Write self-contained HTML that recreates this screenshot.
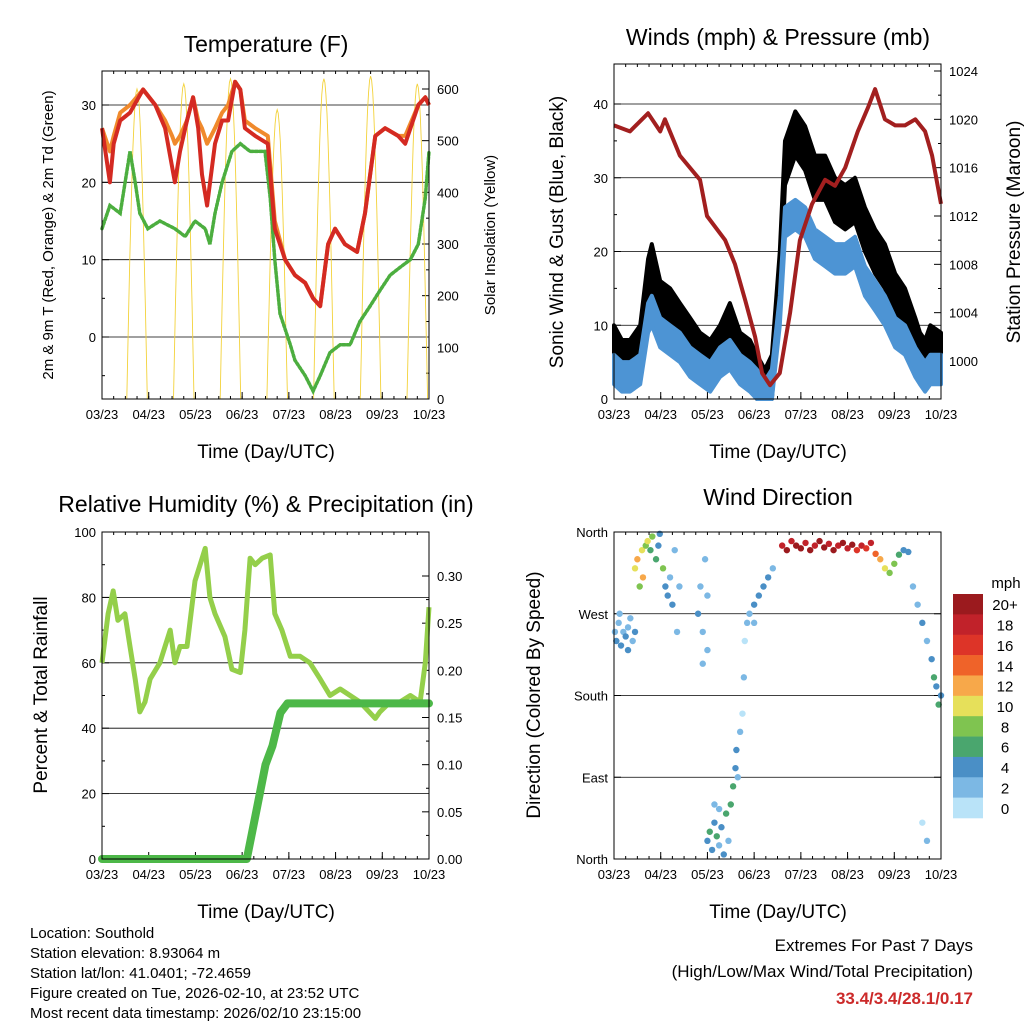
<!DOCTYPE html>
<html><head><meta charset="utf-8"><style>
body{margin:0;background:#fff}
svg{display:block;font-family:"Liberation Sans",Arial,sans-serif}
</style></head><body>
<svg id="s" width="1024" height="1024" xmlns="http://www.w3.org/2000/svg"></svg>
<script>
// ---- Data ----
const tempTimes=[0,.17,.25,.39,.6,.88,1.14,1.35,1.5,1.56,1.67,1.82,1.95,2.06,2.14,2.25,2.42,2.57,2.7,2.85,2.96,3.06,3.28,3.55,3.7,3.92,4.13,4.35,4.52,4.67,4.84,4.99,5.2,5.46,5.63,5.85,6.06,6.34,6.49,6.77,6.92,7];
const temp2m=[27,20,25,28,29,32,30,27,22,20,24,28,31,27,21,17,25,28,28,33,32,27,26,25,14,10,8,7,5,4,12,14,12,11,16,26,27,26,25,30,31,30];
const temp9m=[27,24,26,29,30,32,30,28,26,25,26,28,31,28,27,25,27,29,30,33,32,28,27,26,15,10,8,7,5,4,12,14,12,11,16,26,27,26,26,30,31,30];
const dewTimes=[0,.17,.39,.6,.71,.81,.98,1.24,1.56,1.78,1.99,2.21,2.31,2.42,2.57,2.78,2.96,3.17,3.49,3.6,3.7,3.81,4.03,4.13,4.35,4.52,4.67,4.88,5.1,5.31,5.52,5.74,5.95,6.17,6.38,6.6,6.77,6.92,7];
const dewPoint=[14,17,16,24,20,16,14,15,14,13,15,14,12,16,20,24,25,24,24,18,10,3,-1,-3,-5,-7,-5,-2,-1,-1,2,4,6,8,9,10,12,18,24];
const solarPeaks=[600,610,620,560,620,625,610];
const presTimes=[0,.34,.73,.99,1.09,1.41,1.84,1.99,2.38,2.59,2.81,3.02,3.17,3.34,3.55,3.77,3.98,4.24,4.52,4.73,4.95,5.22,5.44,5.59,5.8,6.02,6.23,6.45,6.66,6.81,7];
const pressure=[1019.5,1019,1020.5,1019,1020,1017,1015,1012,1010,1008,1005,1002,999,998,999,1004,1010,1013,1015,1014.5,1016,1019,1021,1022.5,1020,1019.5,1019.5,1020,1019,1017,1013];
const windTimes=[0,.17,.34,.56,.73,.81,.99,1.2,1.41,1.63,1.84,2.06,2.27,2.48,2.7,2.91,3.06,3.23,3.38,3.55,3.66,3.88,4.09,4.3,4.52,4.73,4.95,5.16,5.37,5.59,5.8,6.02,6.23,6.45,6.55,6.66,6.77,7];
const gust=[7,5,5,7,16,18,13,12,10,8,6,5,7,10,6,5,3,1,3,17,32,36,34,30,30,27,26,27,23,20,18,14,12,8,6,5,7,6];
const sonicWind=[4,3,3,4,11,12,9,8,7,5,4,3,5,6,4,3,2,.5,2,12,24,25,24,21,20,19,19,20,16,14,12,9,8,5,4,3,4,4];
const rhTimes=[0,.13,.24,.34,.49,.6,.71,.81,.92,1.03,1.24,1.46,1.56,1.67,1.82,1.99,2.1,2.21,2.31,2.42,2.63,2.78,2.96,3.06,3.17,3.28,3.43,3.6,3.7,3.85,4.03,4.24,4.45,4.67,4.88,5.1,5.31,5.52,5.85,5.95,6.17,6.38,6.6,6.81,6.92,7];
const relHum=[60,75,82,73,75,65,55,45,48,55,60,70,60,65,65,85,90,95,80,75,68,58,57,70,92,90,92,93,75,70,62,62,60,55,50,52,50,48,43,45,48,48,50,48,60,77];
const precipTimes=[0,3.1,3.3,3.5,3.65,3.82,3.97,7];
const precip=[0,0,.05,.10,.12,.155,.165,.165];
const dirTimes=[0.02,0.05,0.1,0.15,0.2,0.25,0.3,0.35,0.4,0.45,0.12,0.3,0.45,0.5,0.55,0.6,0.62,0.68,0.72,0.78,0.82,0.9,0.95,0.98,1.05,1.1,1.15,1.2,1.25,1.3,1.35,1.4,1.8,1.85,1.9,1.95,2.0,1.9,2.0,2.0,2.05,2.1,2.15,2.2,2.25,2.3,2.35,2.4,2.45,2.25,2.15,2.5,2.55,2.6,2.62,2.65,2.7,2.75,2.78,2.8,2.85,2.9,3.0,3.1,3.2,3.3,3.4,3.0,3.6,3.7,3.8,3.9,4.0,4.1,4.2,4.3,4.4,4.5,4.6,4.7,4.8,4.9,5.0,5.1,5.2,5.3,5.4,5.5,5.6,5.7,5.8,5.9,6.0,6.1,6.2,6.3,6.4,6.5,6.6,6.7,6.8,6.85,6.9,6.95,7.0,6.7,6.6];
const dirDeg=[250,240,260,235,250,245,255,265,240,250,270,230,320,330,300,340,310,345,350,340,355,330,345,358,320,300,290,310,280,340,250,300,270,300,250,330,290,215,230,20,30,10,40,25,15,35,5,50,20,55,60,60,80,100,120,90,140,160,200,240,260,270,280,290,300,310,320,260,345,340,350,345,342,348,340,345,350,343,347,340,345,348,342,346,340,345,342,348,336,330,320,315,325,335,340,338,300,280,260,240,220,200,190,170,180,20,40];
const dirSpeed=[3,4,3,4,2,4,3,2,3,4,2,4,10,12,9,11,13,8,10,7,9,6,5,4,8,5,4,3,4,3,2,3,4,3,2,3,2,2,3,4,6,5,4,6,3,5,4,6,2,2,2,6,7,4,5,3,2,1,2,1,2,3,4,5,4,5,3,3,18,20,19,22,20,18,21,19,20,22,18,20,19,21,18,20,17,19,16,18,15,13,10,9,8,6,5,4,3,2,4,3,5,6,4,7,5,2,1];
const barLabels=["20+","18","16","14","12","10","8","6","4","2","0"];
const barColors=["#9b1a1e","#c1222a","#dd3428","#ef6329","#f7a84a","#e6e05a","#7fc450","#4aa66e","#4a8fc6","#7cb8e4","#b9e3f8"];
const dateLabels=["03/23","04/23","05/23","06/23","07/23","08/23","09/23","10/23"];

// ---- helpers ----
const S=document.getElementById('s');const NS="http://www.w3.org/2000/svg";
function mk(tag,at,parent){const e=document.createElementNS(NS,tag);for(const k in at)e.setAttribute(k,at[k]);(parent||S).appendChild(e);return e;}
function txt(x,y,s,size,opts){opts=opts||{};const e=mk('text',{x:x,y:y,'font-size':size,'text-anchor':opts.anchor||'middle',fill:opts.fill||'#000'});if(opts.bold)e.setAttribute('font-weight','bold');if(opts.rot)e.setAttribute('transform','rotate(-90 '+x+' '+y+')');e.textContent=s;return e;}
function scale(d0,d1,r0,r1){return v=>r0+(v-d0)/(d1-d0)*(r1-r0);}
function line(xs,ys,fx,fy,at){const pts=xs.map((t,i)=>fx(t).toFixed(1)+','+fy(ys[i]).toFixed(1)).join(' ');return mk('polyline',Object.assign({points:pts,fill:'none'},at));}

function panel(L,R,T,B,name){
  const g=mk('g',{});
  const fx=scale(0,7,L,R);
  for(let i=0;i<8;i++){const x=fx(i);mk('line',{x1:x,x2:x,y1:B,y2:B-7,stroke:'#000'},g);
    const t=txt(x,B+20,dateLabels[i],13);}
  for(let i=0;i<28;i++){const x=fx(i/4);mk('line',{x1:x,x2:x,y1:B,y2:B-3,stroke:'#000'},g);mk('line',{x1:x,x2:x,y1:T,y2:T+3,stroke:'#000'},g);}
  return {g,fx};
}
function frame(L,R,T,B){mk('rect',{x:L,y:T,width:R-L,height:B-T,fill:'none',stroke:'#000','stroke-width':1});}
function yTicks(fy,vals,x,side,labels,minor,grid,L,R,size){
  vals.forEach((v,i)=>{const y=fy(v);const d=side<0?7:-7;mk('line',{x1:x,x2:x+d,y1:y,y2:y,stroke:'#000'});
    if(grid)mk('line',{x1:L,x2:R,y1:y,y2:y,stroke:'#000','stroke-width':0.8});
    const t=txt(side<0?x-6:x+8,y+5,labels[i],size||13,{anchor:side<0?'end':'start'});});
  (minor||[]).forEach(v=>{const y=fy(v);mk('line',{x1:x,x2:x+(side<0?3:-3),y1:y,y2:y,stroke:'#000'});});
}

// ===== Panel 1 Temperature =====
{const L=102,R=429,T=71,B=399;const {fx}=panel(L,R,T,B,'temperature-panel');
const fy=scale(0,30,337,105);const fs=scale(0,600,399,89);
yTicks(fy,[0,10,20,30],L,-1,['0','10','20','30'],[-5,5,15,25],true,L,R);
yTicks(fs,[0,100,200,300,400,500,600],R,1,['0','100','200','300','400','500','600'],[50,150,250,350,450,550]);
solarPeaks.forEach((p,d)=>{const xs=[],ys=[];for(let k=0;k<=20;k++){const t=d+0.53+k*0.022;xs.push(t);ys.push(p*Math.sin(Math.PI*k/20));}
 const l=line(xs,ys,fx,fs,{stroke:'#f3d23a','stroke-width':0.9});});
let l=line(dewTimes,dewPoint,fx,fy,{stroke:'#4cae3f','stroke-width':3.5,'stroke-dasharray':'2.5 2','stroke-linecap':'round'});
l=line(tempTimes,temp9m,fx,fy,{stroke:'#f08a2c','stroke-width':4,'stroke-linejoin':'round'});
l=line(tempTimes,temp2m,fx,fy,{stroke:'#d42a22','stroke-width':4,'stroke-linejoin':'round'});
frame(L,R,T,B);
let t=txt(266,52,'Temperature (F)',23);
t=txt(266,458,'Time (Day/UTC)',19);
t=txt(53,235,'2m & 9m T (Red, Orange) & 2m Td (Green)',15,{rot:1});
t=txt(495,235,'Solar Insolation (Yellow)',15,{rot:1});}

// ===== Panel 2 Winds =====
{const L=614,R=941,T=64,B=399;const {fx}=panel(L,R,T,B,'winds-panel');
const fy=scale(0,40,399,104);const fp=scale(1000,1024,361,71);
yTicks(fy,[0,10,20,30,40],L,-1,['0','10','20','30','40'],[5,15,25,35],true,L,R);
yTicks(fp,[1000,1004,1008,1012,1016,1020,1024],R,1,['1000','1004','1008','1012','1016','1020','1024'],[1002,1006,1010,1014,1018,1022]);
function band(vals,spr,col,name){const up=windTimes.map((t,i)=>fx(t).toFixed(1)+','+fy(vals[i]+spr).toFixed(1));const dn=windTimes.map((t,i)=>fx(t).toFixed(1)+','+fy(Math.max(0,vals[i]-spr)).toFixed(1)).reverse();
 const p=mk('polygon',{points:up.concat(dn).join(' '),fill:col,stroke:col,'stroke-width':4,'stroke-linejoin':'round'});}
band(gust,3,'#000','gust-series');band(sonicWind,2,'#4d94d4','sonic-wind-series');
let l=line(presTimes,pressure,fx,fp,{stroke:'#a21f1f','stroke-width':4,'stroke-linejoin':'round'});
frame(L,R,T,B);
let t=txt(778,45,'Winds (mph) & Pressure (mb)',23);
t=txt(778,458,'Time (Day/UTC)',19);
t=txt(563,232,'Sonic Wind & Gust (Blue, Black)',19,{rot:1});
t=txt(1020,232,'Station Pressure (Maroon)',19,{rot:1});}

// ===== Panel 3 RH =====
{const L=102,R=429,T=532,B=859;const {fx}=panel(L,R,T,B,'humidity-panel');
const fy=scale(0,100,859,532);const fr=scale(0,.30,859,576);
yTicks(fy,[0,20,40,60,80,100],L,-1,['0','20','40','60','80','100'],[10,30,50,70,90],false);
[20,40,60,80].forEach(v=>mk('line',{x1:L,x2:R,y1:fy(v),y2:fy(v),stroke:'#000','stroke-width':0.8}));
yTicks(fr,[0,.05,.10,.15,.20,.25,.30],R,1,['0.00','0.05','0.10','0.15','0.20','0.25','0.30'],[.025,.075,.125,.175,.225,.275]);
let l=line(rhTimes,relHum,fx,fy,{stroke:'#94cf4a','stroke-width':5,'stroke-linejoin':'round'});
l=line(precipTimes,precip,fx,fr,{stroke:'#4db848','stroke-width':8,'stroke-linejoin':'round','stroke-linecap':'round'});
frame(L,R,T,B);
let t=txt(266,512,'Relative Humidity (%) & Precipitation (in)',23);
t=txt(266,918,'Time (Day/UTC)',19);
t=txt(47,695,'Percent & Total Rainfall',19,{rot:1});}

// ===== Panel 4 Wind Direction =====
{const L=614,R=941,T=532,B=859;const {fx}=panel(L,R,T,B,'wind-direction-panel');
const fy=scale(0,360,859,532);
yTicks(fy,[0,90,180,270,360],L,-1,['North','East','South','West','North'],[],false);
[90,180,270].forEach(v=>mk('line',{x1:L,x2:R,y1:fy(v),y2:fy(v),stroke:'#000','stroke-width':0.8}));
[0,90,180,270,360].forEach(v=>mk('line',{x1:R,x2:R-7,y1:fy(v),y2:fy(v),stroke:'#000'}));
dirTimes.forEach((tm,i)=>{const idx=Math.max(0,10-Math.min(10,Math.floor(dirSpeed[i]/2)));
 const c=mk('circle',{cx:fx(tm),cy:fy(dirDeg[i]),r:3.2,fill:barColors[idx]});
 
 });
frame(L,R,T,B);
let t=txt(778,505,'Wind Direction',23);
t=txt(778,918,'Time (Day/UTC)',19);
t=txt(540,695,'Direction (Colored By Speed)',19,{rot:1});
const cb=mk('g',{});
const h=(818-594)/11;
barColors.forEach((c,i)=>{mk('rect',{x:953,y:594+i*h,width:30,height:h+0.3,fill:c},cb);
 const lb=txt(1005,594+i*h+h/2+6,barLabels[i],15);});
t=txt(1006,588,'mph',15);}

// ===== footer text =====
['Location: Southold','Station elevation: 8.93064 m','Station lat/lon: 41.0401; -72.4659','Figure created on Tue, 2026-02-10, at 23:52 UTC','Most recent data timestamp: 2026/02/10 23:15:00'].forEach((s,i)=>{
 const t=txt(30,938+i*20,s,15,{anchor:'start'});});
let t=txt(973,951,'Extremes For Past 7 Days',17,{anchor:'end'});
t=txt(973,977,'(High/Low/Max Wind/Total Precipitation)',17,{anchor:'end'});
t=txt(973,1004,'33.4/3.4/28.1/0.17',17,{anchor:'end',fill:'#cc2a2a',bold:1});
</script>
</body></html>
